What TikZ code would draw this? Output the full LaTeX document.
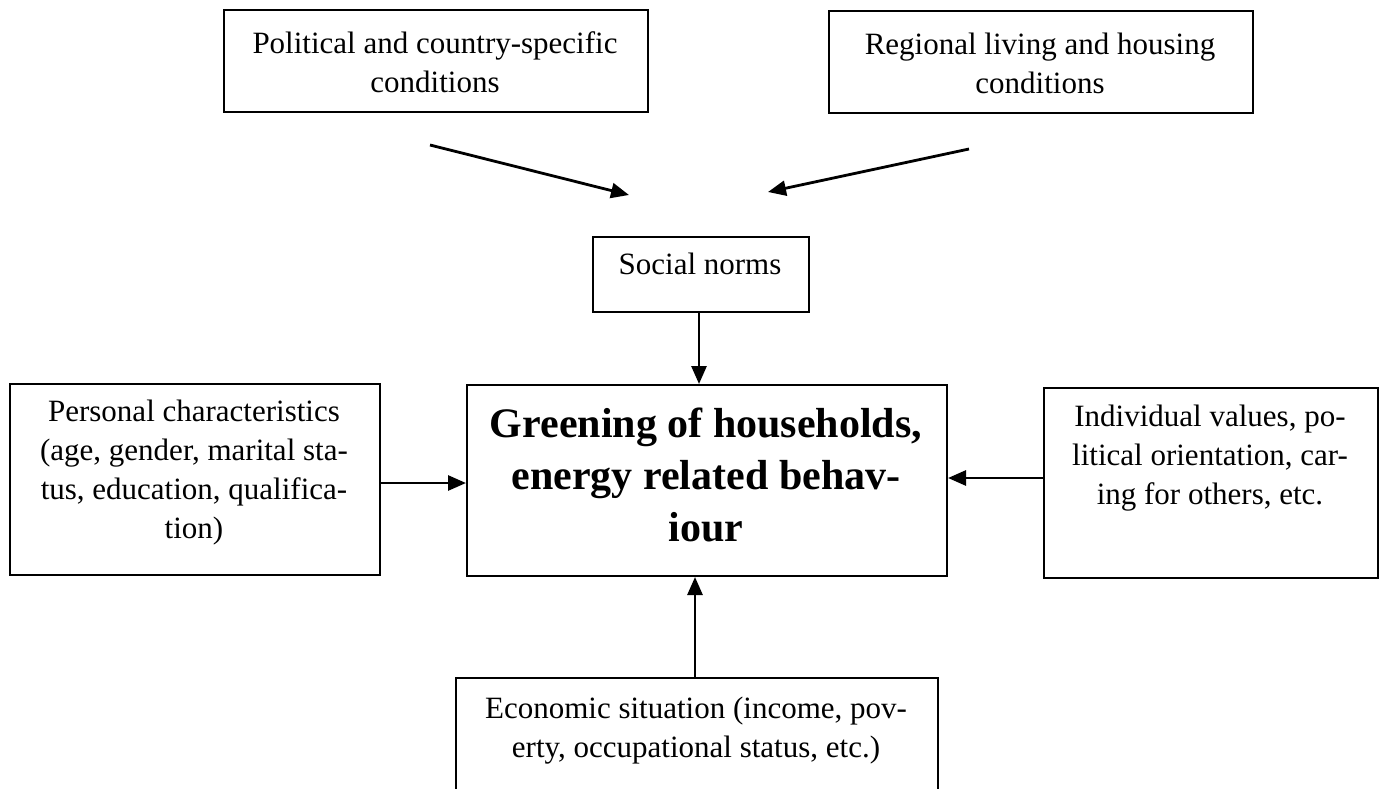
\documentclass[tikz,border=0pt]{standalone}
\usepackage{fontspec}
\setmainfont{Liberation Serif}
\usetikzlibrary{arrows.meta}
\begin{document}
\begin{tikzpicture}[x=1pt,y=-1pt,
  box/.style={draw=black, line width=2pt, rectangle, inner sep=0pt, anchor=north west},
  txt/.style={align=center, font=\fontsize{31}{39}\selectfont, inner sep=0pt},
  bigtxt/.style={align=center, font=\fontsize{42}{52}\selectfont\bfseries, inner sep=0pt},
  conn/.style={line width=2.8pt, -{Triangle[length=18pt,width=15pt]}}
]
\useasboundingbox (0,0) rectangle (1384,789);
\clip (0,0) rectangle (1384,789);
% boxes
\node[box, minimum width=424pt, minimum height=102pt] (pol) at (223,9) {};
\node[box, minimum width=424pt, minimum height=102pt] (reg) at (828,10) {};
\node[box, minimum width=216pt, minimum height=75pt] (soc) at (592,236) {};
\node[box, minimum width=480pt, minimum height=191pt] (cen) at (466,384) {};
\node[box, minimum width=370pt, minimum height=191pt] (per) at (9,383) {};
\node[box, minimum width=334pt, minimum height=190pt] (ind) at (1043,387) {};
\node[box, minimum width=482pt, minimum height=160pt] (eco) at (455,677) {};
% texts
\node[txt] (poltxt) at (435,62) {Political and country-specific\\conditions};
\node[txt] (regtxt) at (1040,63) {Regional living and housing\\conditions};
\node[txt] (soctxt) at (700,264) {Social norms};
\node[bigtxt] (centxt) at (706,475) {Greening of households,\\energy related behav-\\iour};
\node[txt] (pertxt) at (194,473) {Personal characteristics\\(age, gender, marital sta-\\tus, education, qualifica-\\tion)};
\node[txt] (indtxt) at (1210,458) {Individual values, po-\\litical orientation, car-\\ing for others, etc.};
\node[txt] (ecotxt) at (696,731) {Economic situation (income, pov-\\erty, occupational status, etc.)};
% connectors
\coordinate (p1) at (430,145);
\coordinate (p2) at (629,195);
\coordinate (r1) at (969,149);
\coordinate (r2) at (768,192);
\draw[conn] (p1) -- (p2);
\draw[conn] (r1) -- (r2);
\draw[conn] ([xshift=-2pt]soc.south) -- ([xshift=-2pt]soc.south |- cen.north);
\draw[conn] ([yshift=-3.5pt]per.east) -- ([yshift=-3.5pt]per.east -| cen.west);
\draw[conn] ([yshift=5pt]ind.west) -- ([yshift=5pt]ind.west -| cen.east);
\draw[conn] ([xshift=-2pt]eco.north) -- ([xshift=-2pt]eco.north |- cen.south);
\end{tikzpicture}
\end{document}
